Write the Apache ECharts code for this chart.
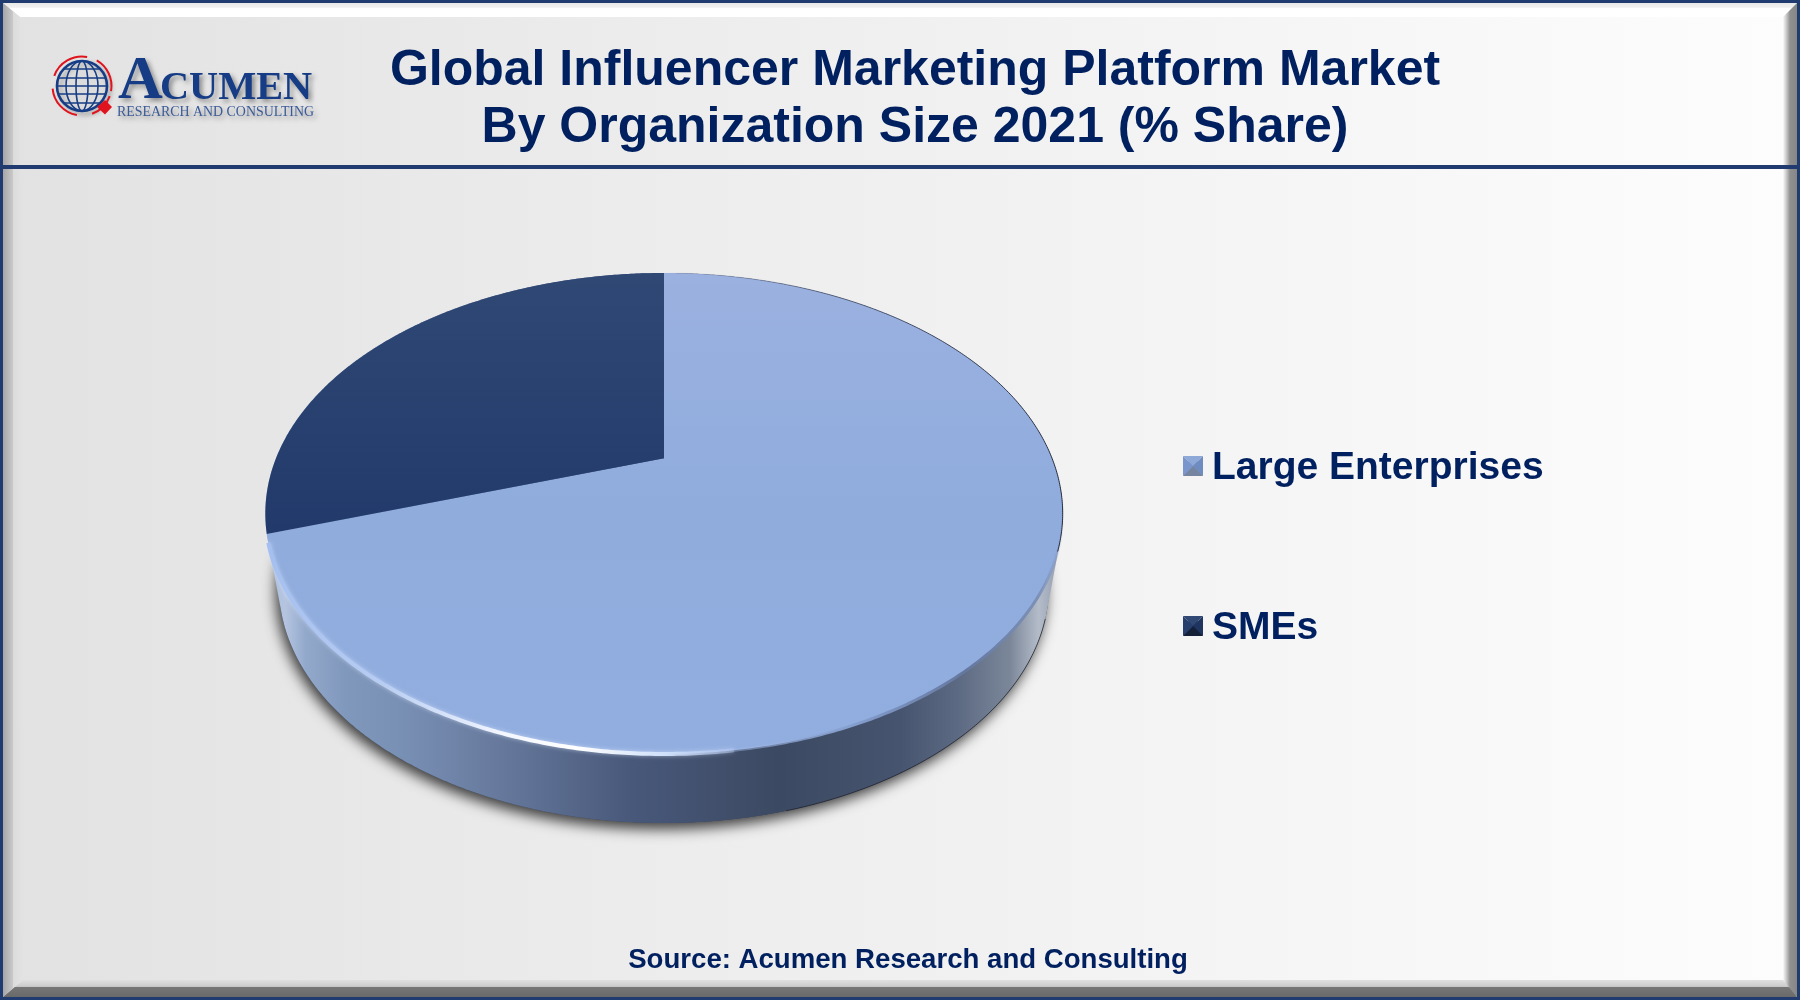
<!DOCTYPE html>
<html><head><meta charset="utf-8">
<style>html,body{margin:0;padding:0;background:#fff}#c{width:1800px;height:1000px}</style>
<script src="https://cdn.jsdelivr.net/npm/echarts@6/dist/echarts.min.js"></script>
</head><body><div id="c"></div>
<script>
const categories = ['Large Enterprises', 'SMEs'];
const shares = [70, 30];
const titleLines = ['Global Influencer Marketing Platform Market', 'By Organization Size 2021 (% Share)'];
const sourceText = 'Source: Acumen Research and Consulting';
const NAVY = '#00205f';

const chart = echarts.init(document.getElementById('c'), null, {renderer: 'canvas'});
const G = echarts.graphic;
const lin = (x0, y0, x1, y1, stops) => new G.LinearGradient(x0, y0, x1, y1, stops.map(s => ({offset: s[0], color: s[1]})));

/* perspective disc: view geometry only; angles come from the data */
const disc = {cx: 664, top: 273, h: 481, s: 388, b: 0.385, c: -0.23};
function project(deg) {
  const a = deg * Math.PI / 180, x = Math.sin(a), y = -Math.cos(a), w = 1 + disc.c * y;
  return [disc.cx + disc.s * x / w, disc.top + disc.h * (disc.b * y + disc.b) / w];
}
const apex = [disc.cx, disc.top + disc.h * disc.b];
function arc(a0, a1) {
  const n = Math.max(2, Math.ceil(Math.abs(a1 - a0) * 2)), pts = [];
  for (let i = 0; i <= n; i++) pts.push(project(a0 + (a1 - a0) * i / n));
  return pts;
}
function ellipsePts(cx, cy, rx, ry, d0, d1) {
  const pts = [], from = d0 === undefined ? 0 : d0, to = d1 === undefined ? 360 : d1;
  for (let d = from; d < to; d += 0.5) { const a = d * Math.PI / 180; pts.push([cx + rx * Math.cos(a), cy + ry * Math.sin(a)]); }
  return pts;
}
function hull(points) {
  const p = points.slice().sort((u, v) => u[0] - v[0] || u[1] - v[1]);
  const cr = (o, u, v) => (u[0] - o[0]) * (v[1] - o[1]) - (u[1] - o[1]) * (v[0] - o[0]);
  const lo = [], up = [];
  for (const q of p) { while (lo.length > 1 && cr(lo[lo.length - 2], lo[lo.length - 1], q) <= 0) lo.pop(); lo.push(q); }
  for (const q of p.reverse()) { while (up.length > 1 && cr(up[up.length - 2], up[up.length - 1], q) <= 0) up.pop(); up.push(q); }
  return lo.slice(0, -1).concat(up.slice(0, -1));
}
const total = shares.reduce((a, b) => a + b, 0);
const startDeg = i => shares.slice(0, i).reduce((a, b) => a + b, 0) / total * 360;

const faceFill = [
  lin(0, 0, 0, 1, [[0, '#9bb1e0'], [0.5, '#8facdd'], [1, '#92aee0']]),
  lin(0, 0, 0, 1, [[0, '#2f4874'], [1, '#213a6b']])
];
const legendFill = ['#7f98c8', '#1f3560'];

const lowerEllipse = {cx: 664, cy: 586, rx: 385, ry: 237};
function wallChildren() {
  const e = lowerEllipse;
  const lower = ellipsePts(e.cx, e.cy, e.rx, e.ry);
  const shape = hull(lower.concat(arc(0, 360)));
  const wallFill = lin(0, 0, 1, 0, [[0, '#a9bcdc'], [0.025, '#b5c5e0'], [0.05, '#93a9cc'], [0.1, '#8098bc'], [0.17, '#7990b5'], [0.295, '#66799c'],
    [0.46, '#48587a'], [0.645, '#3c4962'], [0.796, '#47546f'], [0.87, '#5d6a83'], [0.934, '#7b8799'], [0.97, '#b4bcc9'], [1, '#8d98ac']]);
  return [
    {type: 'polygon', shape: {points: lower}, style: {fill: '#3c4a62', shadowBlur: 14, shadowColor: 'rgba(0,0,0,0.75)', shadowOffsetX: -3, shadowOffsetY: 6}},
    {type: 'polygon', shape: {points: shape}, style: {fill: wallFill}},
    {type: 'polyline', shape: {points: ellipsePts(e.cx, e.cy, e.rx, e.ry, 8, 72)}, style: {fill: 'none', lineWidth: 1, stroke: 'rgba(30,34,44,0.75)'}}
  ];
}
function rimChildren() {
  return [
    {type: 'polyline', shape: {points: arc(172, 100)}, style: {fill: 'none', lineWidth: 3, stroke:
      lin(0, 0, 1, 0, [[0, 'rgba(163,187,230,0.4)'], [0.35, '#86a0d0'], [0.7, '#64779e'], [0.92, '#7d90b6'], [1, 'rgba(125,150,200,0)']])}},
    {type: 'polyline', shape: {points: arc(250, 172)}, style: {fill: 'none', lineWidth: 4, shadowBlur: 4, shadowColor: 'rgba(225,236,255,0.55)', stroke:
      lin(0, 0, 1, 0, [[0, '#a4bff0'], [0.25, '#b8cdf2'], [0.5, '#f2f6ff'], [0.66, '#ffffff'], [0.85, '#cfe0fa'], [1, 'rgba(180,200,240,0.5)']])}},
    {type: 'polyline', shape: {points: arc(0, 112)}, style: {fill: 'none', lineWidth: 1, stroke: lin(0, 0, 1, 0, [[0, 'rgba(90,100,125,0)'], [0.4, 'rgba(70,80,105,0.8)'], [1, 'rgba(30,36,50,0.95)']])}}
  ];
}
function sliceItem(index) {
  return function (params, api) {
    const share = api.value(0);
    const a0 = startDeg(index), a1 = a0 + share / total * 360;
    const slice = {type: 'polygon', shape: {points: [apex].concat(arc(a0, a1))}, style: {fill: faceFill[index]}};
    const children = index === 0 ? wallChildren().concat([slice], rimChildren()) : [slice];
    return {type: 'group', children};
  };
}

/* frame, header and logo */
function square(x, y, sz, colors) {
  const m = [x + sz / 2, y + sz / 2], a = [x, y], b = [x + sz, y], c = [x + sz, y + sz], d = [x, y + sz];
  return [[a, b], [b, c], [c, d], [d, a]].map((e, i) => ({type: 'polygon', z: 20, shape: {points: [e[0], e[1], m]}, style: {fill: colors[i]}}));
}
const logoBlue = '#163c85';
const red = '#e0141e';
const logo = [];
logo.push({type: 'circle', z: 5, shape: {cx: 82, cy: 86, r: 25}, style: {fill: 'rgba(255,255,255,0.2)', stroke: logoBlue, lineWidth: 2.6, shadowBlur: 5, shadowColor: 'rgba(60,60,60,0.45)', shadowOffsetX: 3, shadowOffsetY: 3}});
[[6, 25], [16, 25]].forEach(e => logo.push({type: 'ellipse', z: 6, shape: {cx: 82, cy: 86, rx: e[0], ry: e[1]}, style: {fill: 'none', stroke: logoBlue, lineWidth: 1.6}}));
[[-17, 18], [-8, 23.6], [0, 25], [8, 23.6], [17, 18]].forEach(e => logo.push({type: 'line', z: 6, shape: {x1: 82 - e[1], y1: 86 + e[0], x2: 82 + e[1], y2: 86 + e[0]}, style: {stroke: logoBlue, lineWidth: 1.6}}));
[[200, 280], [300, 370], [20, 70], [100, 175]].forEach(a => logo.push({type: 'arc', z: 6, shape: {cx: 82, cy: 86, r: 29.5, startAngle: a[0] * Math.PI / 180, endAngle: a[1] * Math.PI / 180}, style: {fill: 'none', stroke: red, lineWidth: 2}}));
logo.push({type: 'polygon', z: 7, shape: {points: [[105, 100], [112, 107], [105, 114.5], [97, 107]]}, style: {fill: red}});
const shadowed = {textShadowColor: 'rgba(60,60,60,0.55)', textShadowBlur: 5, textShadowOffsetX: 3, textShadowOffsetY: 3};

const graphics = [
  {type: 'rect', z: 0, shape: {x: 0, y: 0, width: 1800, height: 1000}, style: {fill: '#1f3b6f'}},
  {type: 'rect', z: 1, shape: {x: 3, y: 3, width: 1794, height: 994}, style: {fill: lin(0, 0, 1, 0, [[0, '#e2e2e2'], [0.35, '#ececec'], [0.7, '#f5f5f5'], [1, '#fdfdfd']])}},
  {type: 'polygon', z: 2, shape: {points: [[3, 3], [1797, 3], [1783, 17], [20, 17]]}, style: {fill: lin(0, 0, 0, 1, [[0, '#e8e8e8'], [0.3, '#f0f0f0'], [0.4, '#ffffff'], [1, '#ffffff']])}},
  {type: 'polygon', z: 2, shape: {points: [[3, 3], [20, 17], [22, 980], [3, 997]]}, style: {fill: lin(0, 0, 1, 0, [[0, '#a6a6a6'], [0.5, '#c8c8c8'], [0.55, '#dcdcdc'], [1, '#e2e2e2']])}},
  {type: 'polygon', z: 2, shape: {points: [[1797, 3], [1797, 997], [1783, 985], [1783, 17]]}, style: {fill: lin(0, 0, 1, 0, [[0, '#fbfbfb'], [0.25, '#c8c8c8'], [0.5, '#909090'], [1, '#868686']])}},
  {type: 'polygon', z: 2, shape: {points: [[3, 997], [1797, 997], [1783, 980], [23, 980]]}, style: {fill: lin(0, 0, 0, 1, [[0, '#e0e0e0'], [0.38, '#cccccc'], [0.42, '#767676'], [1, '#6a6a6a']])}},
  {type: 'rect', z: 3, shape: {x: 0, y: 165, width: 1800, height: 4}, style: {fill: '#1f3b6f'}},
  {type: 'text', z: 6, style: {x: 118, y: 113.4, text: 'A', font: 'bold 62px "Liberation Serif"', fill: logoBlue, textAlign: 'left', textVerticalAlign: 'bottom', ...shadowed}},
  {type: 'text', z: 6, style: {x: 160, y: 108.7, text: 'CUMEN', font: 'bold 40.3px "Liberation Serif"', fill: logoBlue, textAlign: 'left', textVerticalAlign: 'bottom', ...shadowed}},
  {type: 'text', z: 6, style: {x: 117, y: 119, text: 'RESEARCH AND CONSULTING', font: '13.9px "Liberation Serif"', fill: '#3a5a98', textAlign: 'left', textVerticalAlign: 'bottom', ...shadowed}}
].concat(
  logo,
  square(1183, 456, 20, ['#8ea8d8', '#6f8cc0', '#75859f', '#7a96cc']),
  square(1183, 616, 20, ['#2f4874', '#1f3560', '#141f38', '#263f6c'])
);

chart.setOption({
  animation: false,
  backgroundColor: '#fff',
  graphic: {elements: graphics},
  title: [
    {text: titleLines.join('\n'), left: 910, top: 38, textAlign: 'center',
      textStyle: {fontFamily: 'Liberation Sans', fontWeight: 'bold', fontSize: 50, lineHeight: 57, color: NAVY}},
    {text: sourceText, left: 903, top: 941, textAlign: 'center',
      textStyle: {fontFamily: 'Liberation Sans', fontWeight: 'bold', fontSize: 27.6, color: NAVY}}
  ],
  legend: {
    orient: 'vertical', left: 1178, top: 437.8, itemWidth: 20, itemHeight: 14, itemGap: 109,
    icon: 'rect', selectedMode: false, data: categories,
    textStyle: {fontFamily: 'Liberation Sans', fontWeight: 'bold', fontSize: 39, lineHeight: 40, color: NAVY, padding: [11, 0, 0, 4]}
  },
  series: categories.map((name, i) => ({
    type: 'custom', name, coordinateSystem: 'none', silent: true, z: 2 + i,
    itemStyle: {color: legendFill[i]},
    renderItem: sliceItem(i),
    data: [[shares[i]]]
  }))
});
</script></body></html>
